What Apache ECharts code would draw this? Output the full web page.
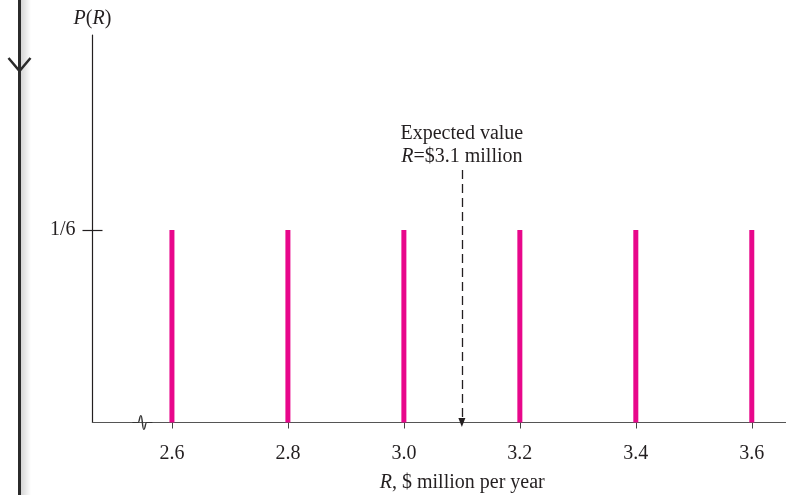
<!DOCTYPE html>
<html><head><meta charset="utf-8">
<script src="https://cdn.jsdelivr.net/npm/echarts@6/dist/echarts.min.js"></script>
<style>html,body{margin:0;padding:0;background:#fff}#c{width:786px;height:495px}</style>
</head><body><div id="c"></div>
<script>
const revenues = [2.6, 2.8, 3.0, 3.2, 3.4, 3.6];
const probabilities = [1/6, 1/6, 1/6, 1/6, 1/6, 1/6];
const xTickLabels = ['2.6', '2.8', '3.0', '3.2', '3.4', '3.6'];
const yTickValues = [1/6];
const yTickLabels = ['1/6'];
const expectedValue = 3.1;
const expectedArrowTop = 0.2186;
const breakAt = 2.549;
const xMin = 2.463, xMax = 3.659;

const font = '"Liberation Serif", "DejaVu Serif", serif';
const chart = echarts.init(document.getElementById('c'), null, {renderer: 'canvas'});
const txt = {fontFamily: font, fontSize: 20, color: '#231f20'};

chart.setOption({
  animation: false,
  grid: {left: 92.5, right: 0, top: 35, bottom: 72.5, containLabel: false, outerBoundsMode: 'none'},
  graphic: [
    {type: 'rect', shape: {x: 21, y: 0, width: 10, height: 495}, z: 0,
      style: {fill: new echarts.graphic.LinearGradient(0, 0, 1, 0, [{offset: 0, color: 'rgba(0,0,0,0.16)'}, {offset: 1, color: 'rgba(0,0,0,0)'}])}},
    {type: 'line', shape: {x1: 19.5, y1: 0, x2: 19.5, y2: 495}, style: {stroke: '#2b2b2b', lineWidth: 3}, z: 1},
    {type: 'polyline', shape: {points: [[8.5, 58], [19.5, 71], [30.5, 58]]}, style: {stroke: '#2b2b2b', lineWidth: 2.5, fill: null}, z: 1}
  ],
  xAxis: {
    type: 'value', min: xMin, max: xMax,
    splitLine: {show: false},
    axisLine: {show: true, lineStyle: {color: '#555', width: 1.2}},
    axisTick: {show: true, customValues: revenues, length: 6, lineStyle: {color: '#444'}},
    axisLabel: {customValues: revenues, formatter: v => xTickLabels[revenues.findIndex(r => Math.abs(r - v) < 1e-6)] || '', margin: 21, ...txt},
    name: '{i|R}, $ million per year', nameLocation: 'middle', nameGap: 50,
    nameTextStyle: {...txt, padding: [0, 0, 0, 46], rich: {i: {...txt, fontStyle: 'italic'}}}
  },
  yAxis: {
    type: 'value', min: 0, max: 0.3355,
    splitLine: {show: false},
    axisLine: {show: true, lineStyle: {color: '#231f20', width: 1.2}},
    axisTick: {show: true, customValues: yTickValues, length: 10, lineStyle: {color: '#231f20', width: 1.2}},
    axisLabel: {customValues: yTickValues, formatter: v => yTickLabels[0], margin: 17, ...txt},
    name: '{i|P}({i|R})', nameLocation: 'end', nameGap: 6,
    nameTextStyle: {...txt, align: 'center', rich: {i: {...txt, fontStyle: 'italic'}}}
  },
  series: [{
    type: 'bar', barWidth: 5,
    itemStyle: {color: '#E8078B'},
    data: revenues.map((r, i) => [r, probabilities[i]]),
    markLine: {
      silent: true,
      symbol: ['none', 'triangle'], symbolSize: [7, 9],
      lineStyle: {type: [9, 5], color: '#231f20', width: 1.3},
      label: {show: true, position: 'start', distance: 2, ...txt, lineHeight: 23,
        formatter: 'Expected value\n{i|R}=$3.1 million',
        rich: {i: {...txt, fontStyle: 'italic'}}},
      data: [
        [{coord: [expectedValue, expectedArrowTop]}, {coord: [expectedValue, 0]}],
        [{coord: [xMin, yTickValues[0]], symbol: 'none', lineStyle: {type: 'solid', width: 1.2, color: '#231f20'}, label: {show: false}},
         {coord: [xMin + 10 / 580, yTickValues[0]], symbol: 'none'}]
      ]
    },
    markPoint: {
      silent: true,
      symbol: 'path://M0,10 L8,10 C10,10 10,2 12,2 C14,2 14,18 16,18 C18,18 18,10 20,10 L28,10',
      symbolSize: [20, 14],
      itemStyle: {color: 'none', borderColor: '#333', borderWidth: 1.2},
      label: {show: false},
      data: [{coord: [breakAt, 0]}]
    }
  }]
});
</script></body></html>
